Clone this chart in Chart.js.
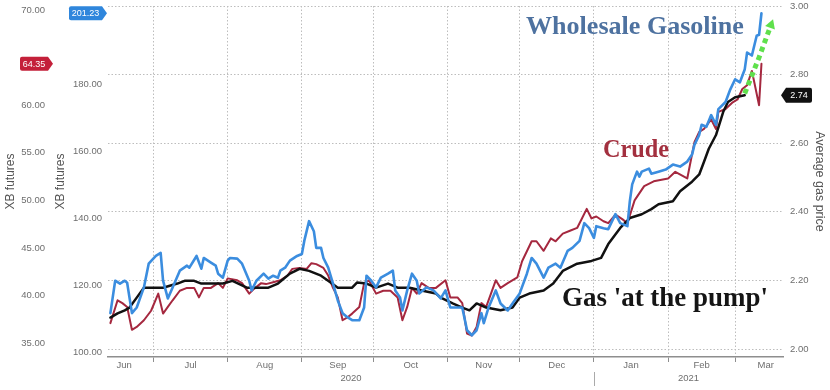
<!DOCTYPE html>
<html>
<head>
<meta charset="utf-8">
<script src="https://cdn.jsdelivr.net/npm/chart.js@4.4.1/dist/chart.umd.min.js"></script>
<style>
html,body{margin:0;padding:0;background:#ffffff;}
#wrap{width:830px;height:390px;position:relative;}
</style>
</head>
<body>
<div id="wrap"><canvas id="c" width="830" height="390"></canvas></div>
<script>
// ---------------- data ----------------
const gasDates = ['2020-06-13','2020-06-15','2020-06-17','2020-06-19','2020-06-20','2020-06-22','2020-06-24','2020-06-27','2020-06-29','2020-07-02','2020-07-04','2020-07-05','2020-07-07','2020-07-09','2020-07-12','2020-07-15','2020-07-16','2020-07-19','2020-07-21','2020-07-22','2020-07-25','2020-07-27','2020-07-28','2020-07-30','2020-08-01','2020-08-02','2020-08-05','2020-08-07','2020-08-10','2020-08-11','2020-08-13','2020-08-16','2020-08-18','2020-08-20','2020-08-22','2020-08-23','2020-08-25','2020-08-27','2020-08-30','2020-09-01','2020-09-02','2020-09-04','2020-09-06','2020-09-07','2020-09-09','2020-09-10','2020-09-12','2020-09-14','2020-09-16','2020-09-18','2020-09-20','2020-09-22','2020-09-25','2020-09-27','2020-09-28','2020-09-30','2020-10-02','2020-10-04','2020-10-07','2020-10-09','2020-10-10','2020-10-12','2020-10-13','2020-10-15','2020-10-17','2020-10-19','2020-10-20','2020-10-23','2020-10-26','2020-10-29','2020-10-31','2020-11-02','2020-11-05','2020-11-07','2020-11-09','2020-11-11','2020-11-13','2020-11-15','2020-11-16','2020-11-18','2020-11-21','2020-11-23','2020-11-26','2020-11-28','2020-12-01','2020-12-04','2020-12-06','2020-12-08','2020-12-11','2020-12-13','2020-12-16','2020-12-18','2020-12-21','2020-12-23','2020-12-26','2020-12-28','2020-12-30','2021-01-01','2021-01-02','2021-01-05','2021-01-07','2021-01-10','2021-01-12','2021-01-15','2021-01-16','2021-01-17','2021-01-19','2021-01-20','2021-01-21','2021-01-24','2021-01-25','2021-01-28','2021-01-31','2021-02-03','2021-02-06','2021-02-09','2021-02-11','2021-02-12','2021-02-14','2021-02-15','2021-02-17','2021-02-19','2021-02-21','2021-02-22','2021-02-25','2021-02-27','2021-03-01','2021-03-03','2021-03-05','2021-03-06','2021-03-08','2021-03-10','2021-03-11','2021-03-12'];
const gasValues = [111.6,121.3,120.4,121.3,120.7,111.6,113.3,119.3,126.4,128.7,129.6,121.3,116.0,119.3,124.3,125.8,125.2,128.7,124.9,128.1,126.7,125.8,123.4,122.2,127.3,128.1,127.9,126.4,121.3,118.4,121.3,123.4,121.9,122.8,122.2,124.3,125.2,127.3,128.7,129.3,133.2,139.1,136.1,131.1,131.1,128.1,125.2,120.4,115.4,111.6,110.4,109.5,109.5,113.3,122.8,121.3,119.3,122.2,123.4,124.3,118.4,116.3,112.4,118.4,123.4,121.3,117.5,119.3,118.4,116.0,118.4,113.3,113.3,113.3,106.5,105.0,106.5,111.6,108.6,113.3,118.4,114.5,112.4,114.5,117.5,123.4,128.1,126.4,122.2,125.2,126.4,125.2,130.2,131.1,133.2,138.5,137.0,134.1,137.6,137.0,136.7,141.2,138.5,137.6,145.0,150.1,153.9,152.4,153.9,154.8,153.3,153.9,154.5,156.0,155.4,156.9,159.0,161.9,164.9,167.9,167.3,170.8,167.9,172.6,174.7,178.5,181.5,180.6,184.4,189.5,188.6,194.5,194.8,201.23];

const crudeDates = ['2020-06-13','2020-06-16','2020-06-18','2020-06-20','2020-06-22','2020-06-24','2020-06-27','2020-06-30','2020-07-03','2020-07-05','2020-07-07','2020-07-09','2020-07-12','2020-07-15','2020-07-18','2020-07-20','2020-07-22','2020-07-25','2020-07-28','2020-07-30','2020-08-01','2020-08-05','2020-08-07','2020-08-10','2020-08-12','2020-08-15','2020-08-17','2020-08-20','2020-08-23','2020-08-26','2020-08-28','2020-08-31','2020-09-03','2020-09-05','2020-09-07','2020-09-10','2020-09-12','2020-09-14','2020-09-16','2020-09-18','2020-09-20','2020-09-22','2020-09-25','2020-09-27','2020-09-29','2020-10-02','2020-10-05','2020-10-08','2020-10-11','2020-10-13','2020-10-15','2020-10-17','2020-10-19','2020-10-21','2020-10-24','2020-10-27','2020-10-31','2020-11-02','2020-11-05','2020-11-07','2020-11-09','2020-11-11','2020-11-13','2020-11-15','2020-11-17','2020-11-19','2020-11-21','2020-11-23','2020-11-26','2020-11-30','2020-12-02','2020-12-06','2020-12-08','2020-12-11','2020-12-14','2020-12-16','2020-12-19','2020-12-22','2020-12-25','2020-12-27','2020-12-29','2020-12-31','2021-01-02','2021-01-05','2021-01-07','2021-01-10','2021-01-13','2021-01-15','2021-01-18','2021-01-22','2021-01-26','2021-02-01','2021-02-04','2021-02-09','2021-02-12','2021-02-14','2021-02-16','2021-02-19','2021-02-21','2021-02-22','2021-02-25','2021-02-28','2021-03-02','2021-03-04','2021-03-06','2021-03-08','2021-03-09','2021-03-11','2021-03-12'];
const crudeValues = [37.1,39.5,39.2,38.8,36.4,36.7,37.4,38.4,40.2,38.1,38.8,39.5,40.5,40.8,40.8,39.8,40.8,40.8,41.3,40.8,41.8,41.6,41.3,40.2,40.7,41.3,41.2,41.4,41.6,42.1,42.8,42.9,42.8,43.4,43.3,42.9,42.1,40.8,39.8,37.4,37.7,38.1,38.8,41.3,41.6,40.2,40.5,40.5,39.8,37.4,38.8,40.8,40.2,41.3,40.8,40.8,41.6,39.8,39.8,39.2,36.0,35.8,36.7,39.2,38.8,40.2,41.6,40.8,41.3,41.9,43.6,45.7,45.7,44.7,46.0,45.7,46.5,46.8,47.1,48.1,49.1,48.1,48.3,47.8,47.6,48.5,48.0,47.6,50.0,51.5,52.0,52.3,53.0,52.3,56.1,57.2,57.5,58.5,57.5,59.3,59.6,60.3,60.6,61.7,62.1,63.6,62.4,60.0,64.35];

const pumpDates = ['2020-06-13','2020-06-16','2020-06-19','2020-06-21','2020-06-24','2020-06-27','2020-06-30','2020-07-05','2020-07-11','2020-07-14','2020-07-18','2020-07-21','2020-07-25','2020-07-30','2020-08-03','2020-08-09','2020-08-18','2020-08-22','2020-08-27','2020-08-31','2020-09-04','2020-09-09','2020-09-13','2020-09-16','2020-09-22','2020-09-24','2020-09-28','2020-10-02','2020-10-07','2020-10-11','2020-10-16','2020-10-21','2020-10-27','2020-10-29','2020-11-03','2020-11-07','2020-11-10','2020-11-13','2020-11-17','2020-11-23','2020-11-28','2020-12-01','2020-12-05','2020-12-11','2020-12-15','2020-12-19','2020-12-25','2020-12-31','2021-01-04','2021-01-07','2021-01-12','2021-01-16','2021-01-21','2021-01-25','2021-01-28','2021-02-03','2021-02-06','2021-02-11','2021-02-14','2021-02-16','2021-02-18','2021-02-21','2021-02-24','2021-02-26','2021-03-01','2021-03-05'];
const pumpValues = [2.092,2.104,2.113,2.121,2.150,2.179,2.179,2.179,2.191,2.199,2.199,2.191,2.191,2.191,2.199,2.179,2.179,2.191,2.220,2.234,2.228,2.214,2.194,2.179,2.179,2.194,2.191,2.179,2.191,2.179,2.179,2.171,2.162,2.150,2.133,2.121,2.113,2.133,2.121,2.113,2.121,2.150,2.162,2.171,2.191,2.228,2.249,2.257,2.266,2.306,2.353,2.382,2.393,2.408,2.422,2.431,2.460,2.488,2.509,2.546,2.584,2.624,2.691,2.720,2.734,2.740];

const projDates = ['2021-03-05','2021-03-11','2021-03-16'];
const projValues = [2.745,2.850,2.945];

const monthStarts = ['2020-06-01','2020-07-01','2020-08-01','2020-09-01','2020-10-01','2020-11-01','2020-12-01','2021-01-01','2021-02-01','2021-03-01','2021-04-01'];
const monthLabels = ['Jun','Jul','Aug','Sep','Oct','Nov','Dec','Jan','Feb','Mar'];
const yearStarts = ['2020-01-01','2021-01-01','2022-01-01'];
const yearLabels = ['2020','2021'];
const xRange = ['2020-06-12','2021-03-21'];

const crudeTicks = [35,40,45,50,55,60,70];
const xbTicks = [100,120,140,160,180,200];
const pumpTicks = [2.0,2.2,2.4,2.6,2.8,3.0];
const crudeRange = [33.54,70.42];
const xbRange = [98.5,203.4];
const pumpRange = [1.977,3.0];

// ---------------- helpers ----------------
const DAY0 = Date.UTC(2020,5,1);
function dayNum(s){ const p = s.split('-').map(Number); return (Date.UTC(p[0],p[1]-1,p[2]) - DAY0)/864e5; }
function pts(dates, vals){ return dates.map((d,i)=>({x:dayNum(d), y:vals[i]})); }

const xMin = dayNum(xRange[0]), xMax = dayNum(xRange[1]);
const boundaryTicks = monthStarts.map(dayNum).filter(v => v > xMin && v < xMax);
const monthMids = monthLabels.map((m,i) => {
  const a = dayNum(monthStarts[i]), b = dayNum(monthStarts[i+1]);
  const full = (a+b)/2, vis = (Math.max(a,xMin)+Math.min(b,xMax))/2;
  return (full+vis)/2;
});
const yearMids = yearLabels.map((y,i) => {
  const a = Math.max(dayNum(yearStarts[i]), xMin), b = Math.min(dayNum(yearStarts[i+1]), xMax);
  return (a+b)/2;
});

const tickFont = {family:'"Liberation Sans", Arial, sans-serif', size:9.5};
const tickColor = '#6e6e6e';
const gridColor = '#bdbdbd';
const gridDash = [1.5,2];

function fixTicks(list){ return s => { s.ticks = list.map(v=>({value:v})); }; }

// ---------------- plugins ----------------
function tag(ctx, x0, x1, yc, h, fill, text, tip){
  const r = 2, t = 5, top = yc - h/2, bot = yc + h/2;
  ctx.save();
  ctx.fillStyle = fill;
  ctx.beginPath();
  if (tip === 'right'){
    ctx.moveTo(x0 + r, top);
    ctx.lineTo(x1 - t, top);
    ctx.lineTo(x1, yc);
    ctx.lineTo(x1 - t, bot);
    ctx.lineTo(x0 + r, bot);
    ctx.quadraticCurveTo(x0, bot, x0, bot - r);
    ctx.lineTo(x0, top + r);
    ctx.quadraticCurveTo(x0, top, x0 + r, top);
  } else {
    ctx.moveTo(x1 - r, top);
    ctx.lineTo(x0 + t, top);
    ctx.lineTo(x0, yc);
    ctx.lineTo(x0 + t, bot);
    ctx.lineTo(x1 - r, bot);
    ctx.quadraticCurveTo(x1, bot, x1, bot - r);
    ctx.lineTo(x1, top + r);
    ctx.quadraticCurveTo(x1, top, x1 - r, top);
  }
  ctx.closePath();
  ctx.fill();
  ctx.fillStyle = '#ffffff';
  ctx.font = '9px "Liberation Sans", Arial, sans-serif';
  ctx.textAlign = 'center';
  ctx.textBaseline = 'middle';
  const cx = tip === 'right' ? (x0 + x1 - t)/2 : (x0 + t + x1)/2;
  ctx.fillText(text, cx, yc + 0.5);
  ctx.restore();
}

const notes = [
  {text:'Wholesale Gasoline', x:526, y:34, width:218, color:'#4e72a0'},
  {text:'Crude', x:603, y:157, width:66, color:'#a3303f'},
  {text:"Gas 'at the pump'", x:562, y:306, width:206, color:'#151515'}
];

const annotPlugin = {
  id:'annot',
  afterDatasetsDraw(chart){
    const ctx = chart.ctx;
    ctx.save();
    notes.forEach(n => {
      ctx.font = 'bold 20px "Liberation Serif", serif';
      const w = ctx.measureText(n.text).width;
      const size = 20 * n.width / w;
      ctx.font = 'bold ' + size.toFixed(2) + 'px "Liberation Serif", serif';
      ctx.fillStyle = n.color;
      ctx.textAlign = 'left';
      ctx.textBaseline = 'alphabetic';
      ctx.fillText(n.text, n.x, n.y);
    });
    ctx.restore();
  },
  afterDraw(chart){
    const ctx = chart.ctx, s = chart.scales;
    // year separator below the axis
    const xs = s.x.getPixelForValue(dayNum(yearStarts[1]));
    ctx.save();
    ctx.strokeStyle = '#aaaaaa';
    ctx.lineWidth = 1;
    ctx.beginPath();
    ctx.moveTo(Math.round(xs)+0.5, s.xy.top - 1);
    ctx.lineTo(Math.round(xs)+0.5, s.xy.bottom - 4);
    ctx.stroke();
    ctx.restore();
    // last-value tags
    tag(ctx, s.yx.left + 16, s.yx.right - 1, s.yx.getPixelForValue(gasValues[gasValues.length-1]), 14, '#2f86dc', gasValues[gasValues.length-1].toFixed(2), 'right');
    tag(ctx, s.yc.left + 20, s.yc.right, s.yc.getPixelForValue(crudeValues[crudeValues.length-1]), 14, '#c4203a', crudeValues[crudeValues.length-1].toFixed(2), 'right');
    tag(ctx, s.yp.left - 2, s.yp.left + 29, s.yp.getPixelForValue(pumpValues[pumpValues.length-1]), 15, '#111111', pumpValues[pumpValues.length-1].toFixed(2), 'left');
  }
};

// ---------------- chart ----------------
const projLast = projDates.length - 1;
new Chart(document.getElementById('c'), {
  type:'line',
  data:{
    datasets:[
      {label:'Projection', data:pts(projDates, projValues), xAxisID:'x', yAxisID:'yp',
       borderColor:'#5fe04c', backgroundColor:'#5fe04c', borderWidth:5, borderDash:[5,4], borderCapStyle:'butt', borderJoinStyle:'miter',
       pointRadius: c => c.dataIndex === projLast ? 6 : 0, pointStyle:'triangle', rotation:20, pointBorderWidth:0},
      {label:'Wholesale Gasoline', data:pts(gasDates, gasValues), xAxisID:'x', yAxisID:'yx',
       borderColor:'#3b8ddf', borderWidth:2.6, pointRadius:0},
      {label:"Gas 'at the pump'", data:pts(pumpDates, pumpValues), xAxisID:'x', yAxisID:'yp',
       borderColor:'#111111', borderWidth:2.5, pointRadius:0},
      {label:'Crude', data:pts(crudeDates, crudeValues), xAxisID:'x', yAxisID:'yc',
       borderColor:'#a5283f', borderWidth:2, pointRadius:0}
    ]
  },
  options:{
    responsive:false, animation:false, devicePixelRatio:1,
    layout:{padding:{top:3, left:0, right:0, bottom:0}},
    plugins:{legend:{display:false}, tooltip:{enabled:false}},
    elements:{line:{tension:0, borderJoinStyle:'round', borderCapStyle:'round'}},
    scales:{
      x:{type:'linear', position:'bottom', weight:1, min:xMin, max:xMax,
         afterBuildTicks: s => { s.ticks = boundaryTicks.map(v=>({value:v})); },
         afterFit: s => { s.height = 3; s.paddingLeft = 0; s.paddingRight = 0; },
         ticks:{display:false},
         grid:{display:true, color:gridColor, lineWidth:1, drawTicks:true, tickLength:5, tickColor:'#8e8e8e', tickWidth:1},
         border:{display:true, color:'#8e8e8e', width:1.5, dash:gridDash}},
      xm:{type:'linear', position:'bottom', weight:2, min:xMin, max:xMax,
         afterBuildTicks: s => { s.ticks = monthMids.map(v=>({value:v})); },
         afterFit: s => { s.height = 13; s.paddingLeft = 0; s.paddingRight = 0; },
         ticks:{callback:(v,i)=>monthLabels[i], padding:0, font:tickFont, color:tickColor, autoSkip:false, maxRotation:0, minRotation:0},
         grid:{display:false, drawTicks:false}, border:{display:false}},
      xy:{type:'linear', position:'bottom', weight:3, min:xMin, max:xMax,
         afterBuildTicks: s => { s.ticks = yearMids.map(v=>({value:v})); },
         afterFit: s => { s.height = 17; s.paddingLeft = 0; s.paddingRight = 0; },
         ticks:{callback:(v,i)=>yearLabels[i], padding:0, font:tickFont, color:tickColor, autoSkip:false, maxRotation:0, minRotation:0},
         grid:{display:false, drawTicks:false}, border:{display:false}},
      yc:{type:'linear', position:'left', weight:2, min:crudeRange[0], max:crudeRange[1],
         afterBuildTicks: fixTicks(crudeTicks),
         afterFit: s => { s.width = 53; s.paddingTop = 0; s.paddingBottom = 0; },
         ticks:{callback:v=>Number(v).toFixed(2), padding:8, font:tickFont, color:tickColor, autoSkip:false},
         grid:{display:false, drawTicks:false}, border:{display:false},
         title:{display:true, text:'XB futures', color:'#555555', font:{family:'"Liberation Sans", Arial, sans-serif', size:12}, padding:{top:3, bottom:0}}},
      yx:{type:'linear', position:'left', weight:1, min:xbRange[0], max:xbRange[1],
         afterBuildTicks: fixTicks(xbTicks),
         afterFit: s => { s.width = 55; s.paddingTop = 0; s.paddingBottom = 0; },
         ticks:{callback:v=>Number(v).toFixed(2), padding:6, font:tickFont, color:tickColor, autoSkip:false},
         grid:{display:false, drawTicks:false}, border:{display:false},
         title:{display:true, text:'XB futures', color:'#555555', font:{family:'"Liberation Sans", Arial, sans-serif', size:12}, padding:{top:0, bottom:0}}},
      yp:{type:'linear', position:'right', weight:1, min:pumpRange[0], max:pumpRange[1],
         afterBuildTicks: fixTicks(pumpTicks),
         afterFit: s => { s.width = 47; s.paddingTop = 0; s.paddingBottom = 0; },
         ticks:{callback:v=>Number(v).toFixed(2), padding:7, font:tickFont, color:tickColor, autoSkip:false},
         grid:{display:true, drawOnChartArea:true, drawTicks:false, color:gridColor, lineWidth:1},
         border:{display:false, dash:gridDash},
         title:{display:true, text:'Average gas price', color:'#555555', font:{family:'"Liberation Sans", Arial, sans-serif', size:12.5}, padding:{top:3.5, bottom:0}}}
    }
  },
  plugins:[annotPlugin]
});
</script>
</body>
</html>
